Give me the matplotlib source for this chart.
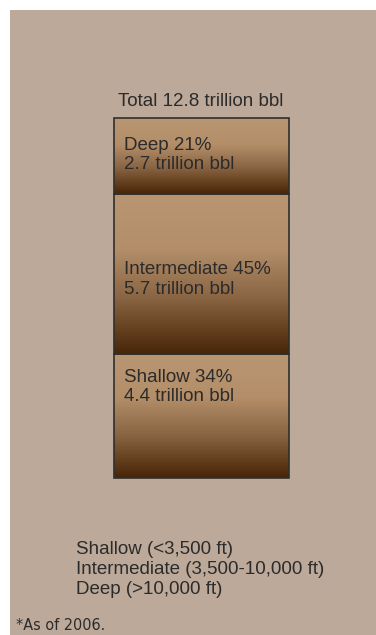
import numpy as np
import matplotlib
matplotlib.use("Agg")
import matplotlib.pyplot as plt
from matplotlib.colors import LinearSegmentedColormap
from matplotlib.patches import Rectangle

# ---- data ----
categories = ["Shallow", "Intermediate", "Deep"]
shares = [34, 45, 21]                 # percent
volumes = [4.4, 5.7, 2.7]             # trillion bbl
total = 12.8
depth_labels = ["Shallow (<3,500 ft)", "Intermediate (3,500-10,000 ft)", "Deep (>10,000 ft)"]
title_text = "Total 12.8 trillion bbl"
footnote = "*As of 2006."

# ---- layout / style ----
W, H = 376, 635
label_frac = [0.734, 0.468, 0.514]    # vertical placement of labels inside each segment
bg = "#bca999"
txt = "#2b2b2b"
font = ["Liberation Sans", "DejaVu Sans"]
fs = 13.5

fig = plt.figure(figsize=(W / 100, H / 100), dpi=100)
fig.patch.set_facecolor("white")
fig.add_artist(Rectangle((10 / W, 0), 1 - 10 / W, 1 - 10 / H, transform=fig.transFigure,
                         facecolor=bg, edgecolor="none", zorder=0))

ax = fig.add_axes([114 / W, 157 / H, 175 / W, 360 / H])
ax.axis("off")

cmap = LinearSegmentedColormap.from_list(
    "brown", [(0.0, "#b99672"), (0.35, "#b38e69"), (0.65, "#8a6544"), (0.85, "#65401f"), (1.0, "#472507")])
grad = np.linspace(0, 1, 256).reshape(-1, 1)

bottoms = np.concatenate([[0], np.cumsum(volumes)[:-1]])
bars = ax.bar([0.5] * len(volumes), volumes, width=1.0, bottom=bottoms,
              facecolor="none", edgecolor="#2f2f2f", linewidth=1.2, zorder=3)
for b, bar in zip(bottoms, bars):
    bar.set_clip_on(False)
    x0 = bar.get_x()
    ax.imshow(grad, cmap=cmap, aspect="auto", origin="upper",
              extent=[x0, x0 + bar.get_width(), b, b + bar.get_height()], zorder=1)

ax.set_xlim(0, 1)
ax.set_ylim(0, total)

for cat, s, v, b, f in zip(categories, shares, volumes, bottoms, label_frac):
    ax.text(0.057, b + v * f, f"{cat} {s}%\n{v} trillion bbl", ha="left", va="center",
            fontsize=fs, color=txt, family=font, linespacing=1.2, zorder=4)

fig.text(201 / W, 1 - 102 / H, title_text, ha="center", va="center",
         fontsize=fs, color=txt, family=font)

for i, lab in enumerate(depth_labels):
    fig.text(76 / W, 1 - (549 + 20 * i) / H, lab, ha="left", va="center",
             fontsize=fs, color=txt, family=font)

fig.text(16 / W, 1 - 626 / H, footnote, ha="left", va="center",
         fontsize=11.5, color=txt, family=["DejaVu Sans"], fontstretch="condensed")

fig.savefig("out.png", dpi=100, facecolor=fig.get_facecolor())
